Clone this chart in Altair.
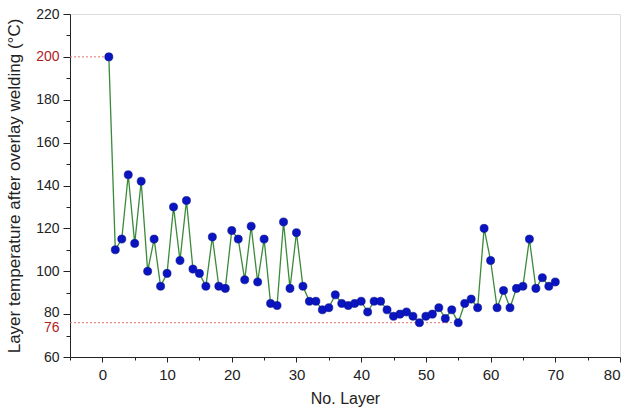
import altair as alt
import pandas as pd

layers = list(range(1, 71))
temps = [200, 110, 115, 145, 113, 142, 100, 115, 93, 99,
         130, 105, 133, 101, 99, 93, 116, 93, 92, 119,
         115, 96, 121, 95, 115, 85, 84, 123, 92, 118,
         93, 86, 86, 82, 83, 89, 85, 84, 85, 86,
         81, 86, 86, 82, 79, 80, 81, 79, 76, 79,
         80, 83, 78, 82, 76, 85, 87, 83, 120, 105,
         83, 91, 83, 92, 93, 115, 92, 97, 93, 95]

ref_values = [200, 76]
ref_start = [-5, -5]
ref_end = [1, 55]

x_major = [0, 10, 20, 30, 40, 50, 60, 70, 80]
x_minor = [-5, 5, 15, 25, 35, 45, 55, 65, 75]
y_major = [60, 76, 80, 100, 120, 140, 160, 180, 200, 220]
y_minor = [70, 90, 110, 130, 150, 170, 190, 210]

FONT = "Liberation Sans"

df = pd.DataFrame({"layer": layers, "temp": temps})
refs = pd.DataFrame({"v": ref_values, "x0": ref_start, "x1": ref_end})

xscale = alt.Scale(domain=[-5, 80], nice=False, zero=False)
yscale = alt.Scale(domain=[60, 220], nice=False, zero=False)

x_axis = alt.Axis(values=x_major, grid=False, domainColor="#222", tickColor="#222",
                  tickSize=5, labelFontSize=15, labelColor="#222", labelFont=FONT,
                  labelPadding=5, title="No. Layer", titleFont=FONT, titleFontSize=16,
                  titleFontWeight="normal", titleColor="#222", titlePadding=8,
                  orient="bottom")
y_axis = alt.Axis(values=y_major, grid=False, domainColor="#222",
                  tickColor="#222", tickSize=7, labelFontSize=14, labelFont=FONT,
                  labelOverlap=False, labelPadding=4,
                  labelColor={"expr": "datum.value == 200 || datum.value == 76 ? '#b01e1e' : '#222222'"},
                  tickOpacity={"expr": "datum.value == 76 ? 0 : 1"},
                  labelOffset={"expr": "datum.value == 76 ? 5 : (datum.value == 80 ? -2 : 0)"},
                  title="Layer temperature after overlay welding (°C)", titleFont=FONT,
                  titleFontSize=17, titleFontWeight="normal", titleColor="#222", titlePadding=12,
                  orient="left")

line = alt.Chart(df).mark_line(color="#3a8a3a", strokeWidth=1.3).encode(
    x=alt.X("layer:Q", scale=xscale, axis=x_axis),
    y=alt.Y("temp:Q", scale=yscale, axis=y_axis),
)

points = alt.Chart(df).mark_point(filled=True, size=65, color="#0a14c0",
                                   stroke="#06108a", strokeWidth=0.6, opacity=1).encode(
    x=alt.X("layer:Q", scale=xscale, axis=None),
    y=alt.Y("temp:Q", scale=yscale, axis=None),
)

rules = alt.Chart(refs).mark_rule(color="#e07070", strokeWidth=1, strokeDash=[2, 2]).encode(
    x=alt.X("x0:Q", scale=xscale, axis=None),
    x2="x1:Q",
    y=alt.Y("v:Q", scale=yscale, axis=None),
)

minor = alt.Chart(df).mark_point(opacity=0).encode(
    x=alt.X("layer:Q", scale=xscale,
            axis=alt.Axis(values=x_minor, labels=False, grid=False, domain=False,
                          tickColor="#222", tickSize=3, title="", orient="bottom")),
    y=alt.Y("temp:Q", scale=yscale,
            axis=alt.Axis(values=y_minor, labels=False, grid=False, domain=False,
                          tickColor="#222", tickSize=4, title="", orient="left")),
)

chart = alt.layer(rules, line, points, minor).resolve_axis(
    x="independent", y="independent"
).properties(
    width=550, height=343,
    autosize=alt.AutoSizeParams(type="none"),
    padding={"left": 70, "top": 14, "right": 10, "bottom": 52},
).configure_view(stroke=None).configure(background="white")

chart.save("out.html", embed_options={"renderer": "svg", "actions": False})
